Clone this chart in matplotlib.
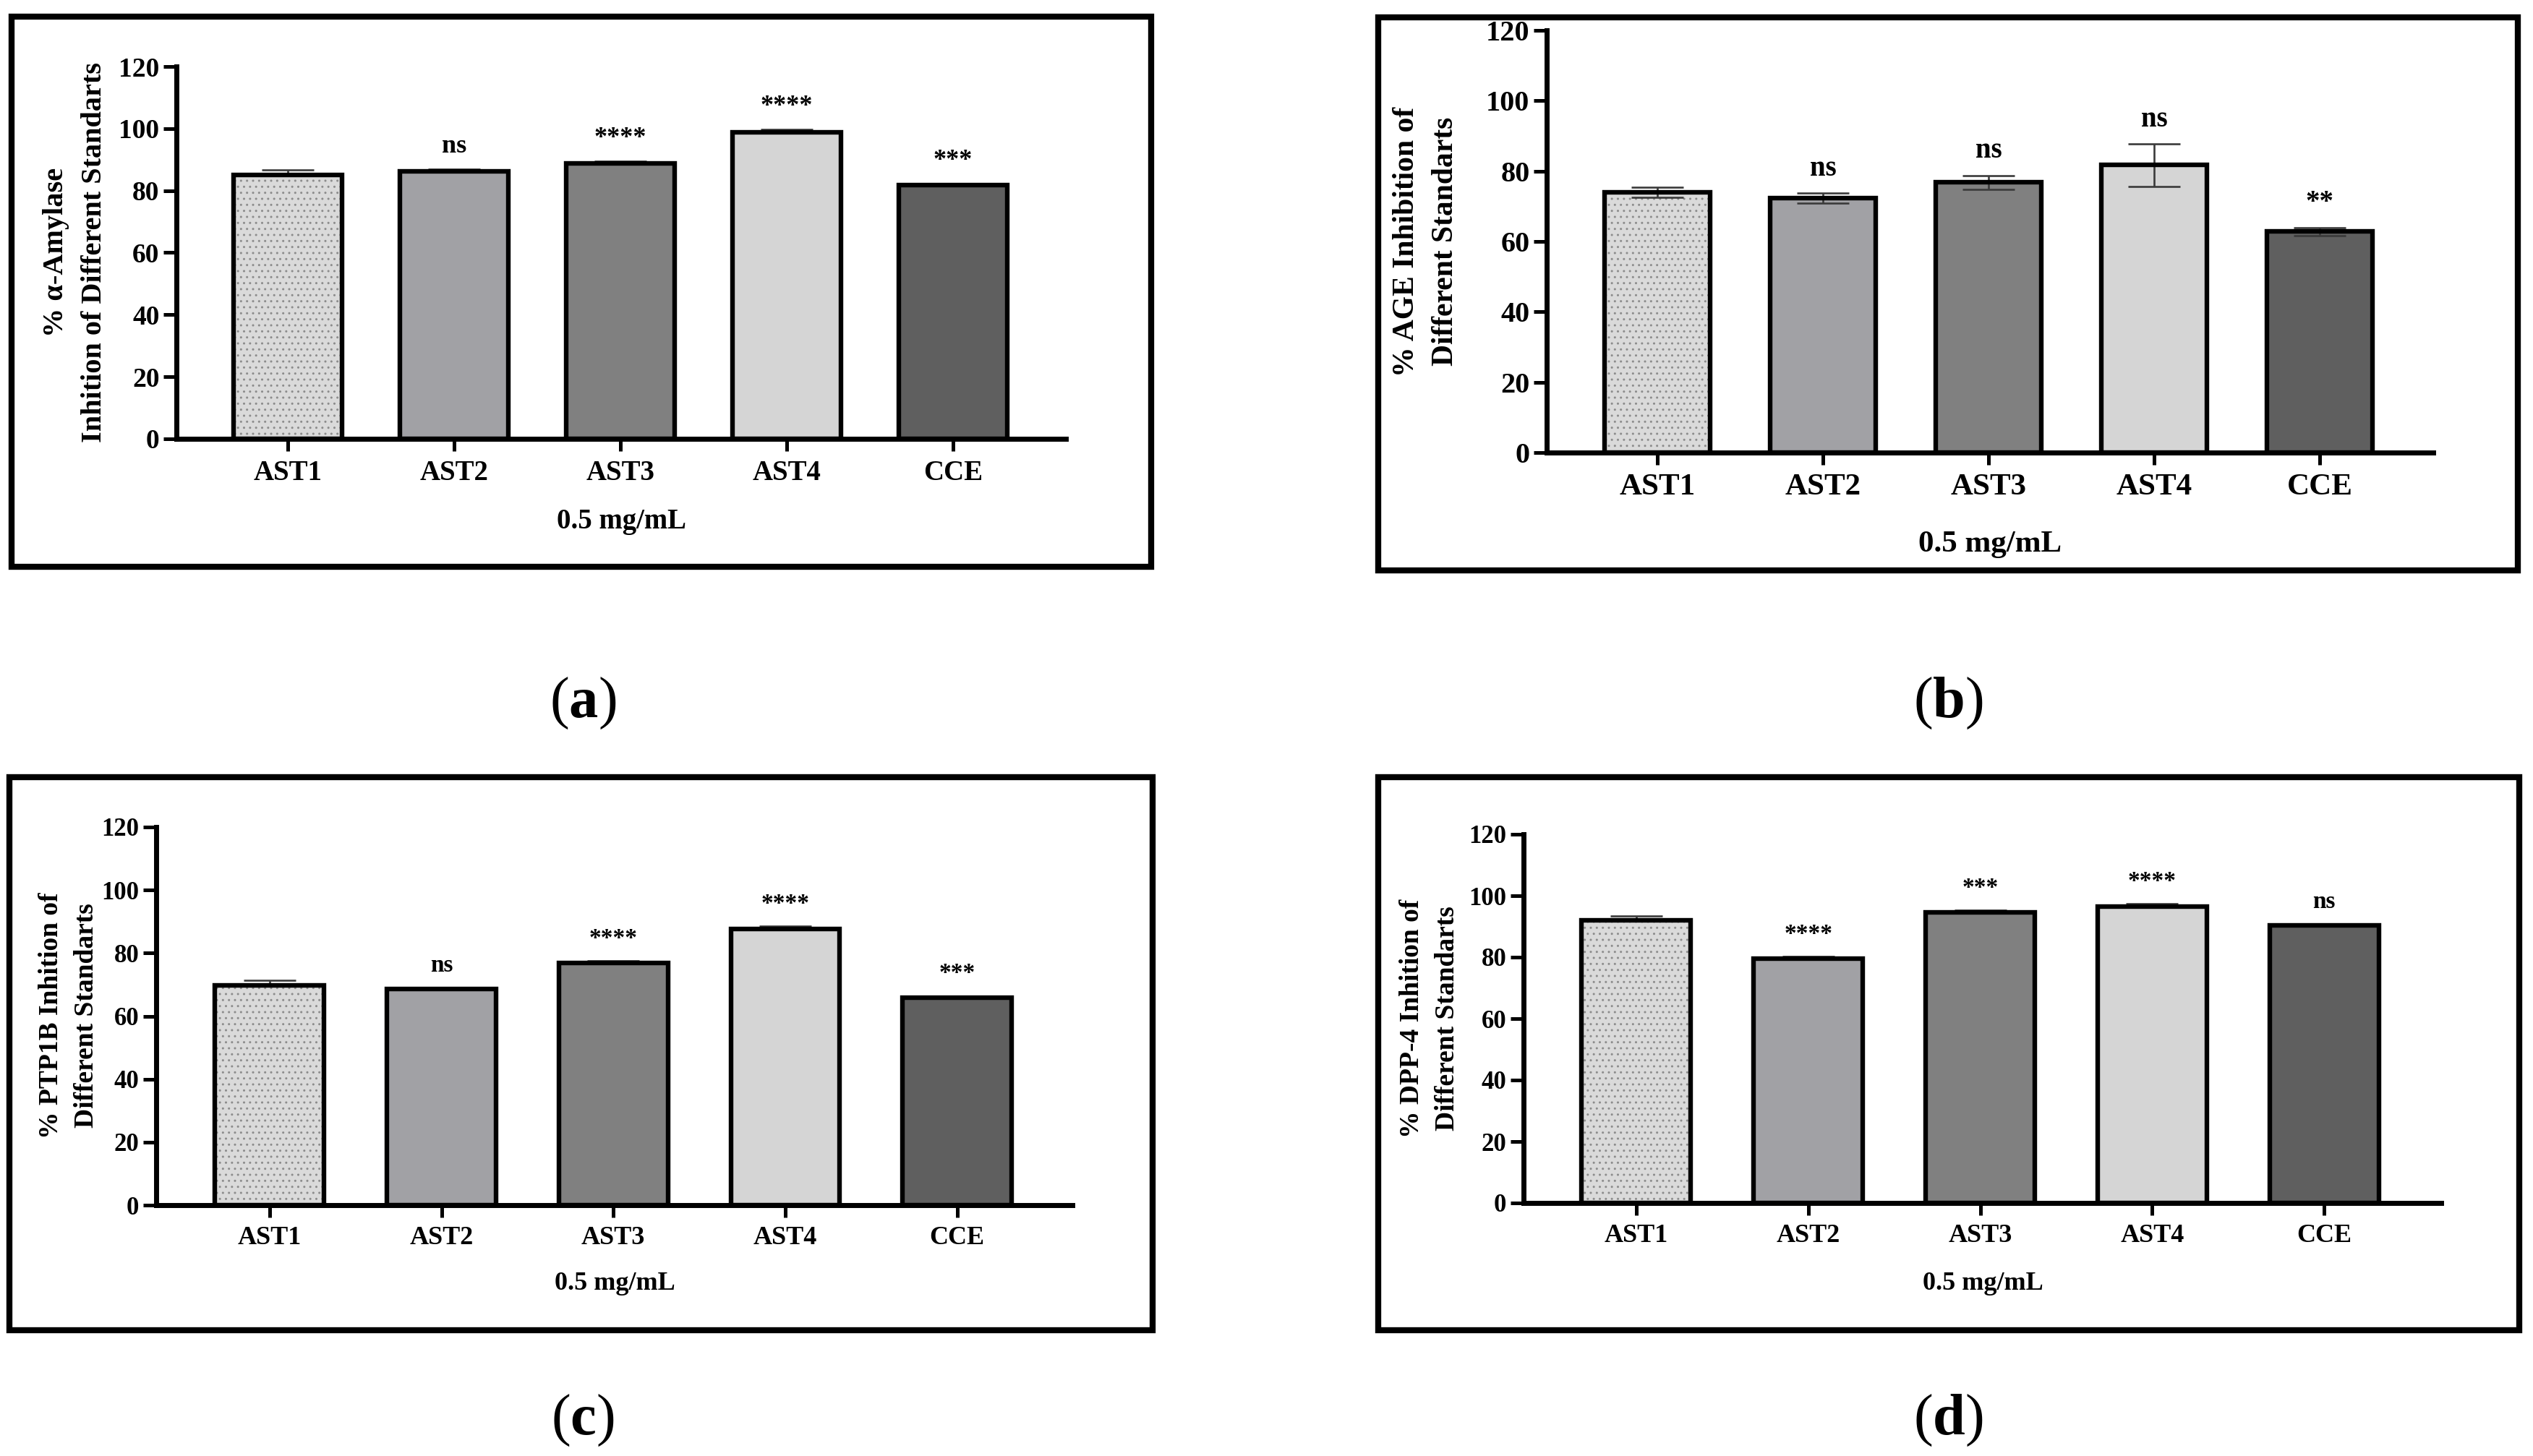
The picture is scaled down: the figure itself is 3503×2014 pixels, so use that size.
import matplotlib
matplotlib.use("Agg")
import matplotlib.pyplot as plt
from matplotlib.patches import Rectangle

plt.rcParams['font.family'] = ['Liberation Serif', 'DejaVu Serif']
plt.rcParams['font.weight'] = 'bold'
plt.rcParams['mathtext.fontset'] = 'custom'
plt.rcParams['mathtext.rm'] = 'Liberation Serif'
plt.rcParams['mathtext.bf'] = 'Liberation Serif:bold'
plt.rcParams['hatch.linewidth'] = 1.0

# ---------------- data ----------------
categories = ['AST1', 'AST2', 'AST3', 'AST4', 'CCE']

amylase_values = [85.0, 86.3, 88.8, 98.9, 81.9]
amylase_errors = [1.6, 0.6, 0.6, 0.8, 0.4]
amylase_signif = ['', 'ns', '****', '****', '***']

age_values = [74.0, 72.3, 76.8, 81.7, 62.8]
age_errors = [1.5, 1.5, 2.0, 6.0, 1.2]
age_signif = ['', 'ns', 'ns', 'ns', '**']

ptp1b_values = [69.8, 68.6, 76.9, 87.6, 65.9]
ptp1b_errors = [1.6, 0.5, 0.6, 1.0, 0.5]
ptp1b_signif = ['', 'ns', '****', '****', '***']

dpp4_values = [91.9, 79.6, 94.5, 96.4, 90.3]
dpp4_errors = [1.6, 0.6, 0.8, 0.9, 0.5]
dpp4_signif = ['', '****', '***', '****', 'ns']

y_ticks = [0, 20, 40, 60, 80, 100, 120]
x_title = '0.5 mg/mL'
panel_letters = ['a', 'b', 'c', 'd']
y_titles = ['% \u03b1-Amylase\nInhition of Different Standarts',
            '% AGE Inhibition of\nDifferent Standarts',
            '% PTP1B Inhition of\nDifferent Standarts',
            '% DPP-4 Inhition of\nDifferent Standarts']

# ---------------- style ----------------
bar_colors = ['#dadada', '#a1a1a5', '#808080', '#d5d5d5', '#5f5f5f']
dot_color = '#8c8c8c'
W, H = 3503, 2014
fig = plt.figure(figsize=(W / 100, H / 100), dpi=100)


def fx(px):
    return px / W


def fy(py):
    return 1 - py / H


# layout per panel (pixel geometry)
layouts = [
    dict(left=244, right=1474, y0=607, y120=92, xlim=(-0.67, 4.678), width=0.65,
         box=(16, 23, 1592, 784), ylab=(104, 349), xlab=(859, 722), letter=(806, 992),
         fs_tick=27, fs_cat=28, fs_lab=29, fs_sig=26, both_err=False),
    dict(left=2139, right=3365, y0=626, y120=42, xlim=(-0.668, 4.686), width=0.635,
         box=(1906, 24, 3482, 789), ylab=(1972, 334), xlab=(2752, 753), letter=(2694, 992),
         fs_tick=29, fs_cat=31, fs_lab=30, fs_sig=28, both_err=True),
    dict(left=216, right=1483, y0=1667, y120=1144, xlim=(-0.66, 4.67), width=0.635,
         box=(13, 1075, 1594, 1840), ylab=(95, 1405), xlab=(850, 1776), letter=(806, 1984),
         fs_tick=25, fs_cat=26, fs_lab=27, fs_sig=24, both_err=False),
    dict(left=2107, right=3376, y0=1664, y120=1154, xlim=(-0.655, 4.68), width=0.635,
         box=(1906, 1075, 3484, 1840), ylab=(1977, 1409), xlab=(2742, 1776), letter=(2694, 1984),
         fs_tick=25, fs_cat=26, fs_lab=27, fs_sig=24, both_err=False),
]

datasets = [
    (amylase_values, amylase_errors, amylase_signif),
    (age_values, age_errors, age_signif),
    (ptp1b_values, ptp1b_errors, ptp1b_signif),
    (dpp4_values, dpp4_errors, dpp4_signif),
]

for lay, (vals, errs, sigs), ytitle, letter in zip(layouts, datasets, y_titles, panel_letters):
    # outer frame
    bx0, by0, bx1, by1 = lay['box']
    fig.patches.append(Rectangle((fx(bx0), fy(by1)), fx(bx1) - fx(bx0), fy(by0) - fy(by1),
                                 transform=fig.transFigure, fill=False,
                                 edgecolor='black', linewidth=6, zorder=0))

    ax = fig.add_axes([fx(lay['left']), fy(lay['y0']),
                       fx(lay['right']) - fx(lay['left']),
                       fy(lay['y120']) - fy(lay['y0'])])
    ax.set_facecolor('none')
    x = list(range(len(categories)))
    base = ax.bar(x, vals, lay['width'], color=bar_colors, edgecolor=dot_color,
                  linewidth=0, zorder=2)
    base[0].set_hatch('..')
    lower = errs if lay['both_err'] else [0] * len(errs)
    ax.errorbar(x, vals, yerr=[lower, errs], fmt='none', ecolor='#3a3a3a', elinewidth=1.9,
                capsize=26, capthick=1.9, zorder=3)
    ax.bar(x, vals, lay['width'], fill=False, edgecolor='black', linewidth=4.6, zorder=4)

    for xi, v, e, s in zip(x, vals, errs, sigs):
        if s:
            ax.annotate(s, xy=(xi, v + e), xytext=(0, 11), textcoords='offset points',
                        ha='center', va='bottom', fontsize=lay['fs_sig'], fontweight='bold')

    ax.set_xlim(*lay['xlim'])
    ax.set_ylim(0, 120)
    ax.set_yticks(y_ticks)
    ax.set_yticklabels([str(t) for t in y_ticks], fontsize=lay['fs_tick'], fontweight='bold')
    ax.set_xticks(x)
    ax.set_xticklabels(categories, fontsize=lay['fs_cat'], fontweight='bold')
    ax.tick_params(axis='y', length=13, width=3.6, pad=4, direction='out')
    ax.tick_params(axis='x', length=12, width=3.6, pad=9, direction='out')
    for side in ['top', 'right']:
        ax.spines[side].set_visible(False)
    for side in ['left', 'bottom']:
        ax.spines[side].set_linewidth(5)
        ax.spines[side].set_capstyle('projecting')

    fig.text(fx(lay['ylab'][0]), fy(lay['ylab'][1]), ytitle, rotation=90,
             ha='center', va='center', multialignment='center', linespacing=1.55,
             fontsize=lay['fs_lab'], fontweight='bold')
    fig.text(fx(lay['xlab'][0]), fy(lay['xlab'][1]), x_title, ha='center', va='center',
             fontsize=lay['fs_cat'], fontweight='bold')
    fig.text(fx(lay['letter'][0]), fy(lay['letter'][1]), '($\\mathbf{%s}$)' % letter,
             ha='center', va='baseline', fontsize=58, fontweight='normal')

fig.savefig('out.png', dpi=100, facecolor='white')
